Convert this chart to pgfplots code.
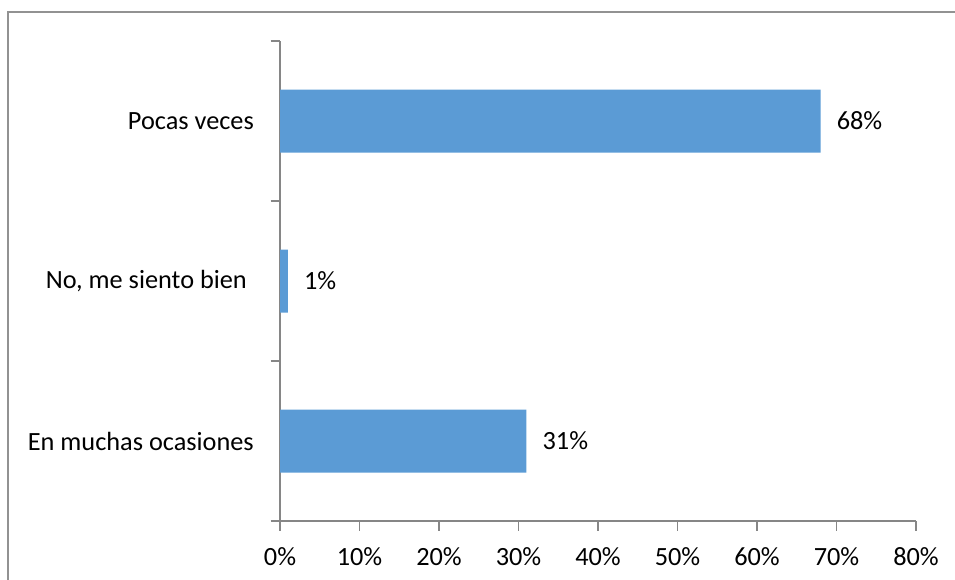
\documentclass[border=0pt]{standalone}
\usepackage{pgfplots}
\pgfplotsset{compat=1.18}
\usepackage{fontspec}
\setmainfont{Carlito}
\definecolor{barblue}{HTML}{5B9BD5}
\definecolor{axisgray}{HTML}{868686}
\begin{document}
\fontsize{26.3}{30}\selectfont
\begin{tikzpicture}
\useasboundingbox (0pt,0pt) rectangle (955pt,-579pt);
\draw[axisgray!90, line width=1.3pt] (8pt,-590pt) -- (8pt,-12pt) -- (970pt,-12pt);
\begin{axis}[
    at={(280pt,-521pt)}, anchor=south west,
    scale only axis, width=636pt, height=480pt,
    xbar, bar width=63pt,
    xmin=0, xmax=80, ymin=-0.5, ymax=2.5,
    axis lines*=left,
    axis line style={axisgray, line width=1.3pt},
    every tick/.style={axisgray, line width=1.3pt},
    tick align=outside,
    major tick length=9.5pt,
    xtick={0,10,...,80},
    xticklabels={0\%,10\%,20\%,30\%,40\%,50\%,60\%,70\%,80\%},
    ytick={-0.5,0.5,1.5,2.5},
    yticklabels={},
    extra y ticks={0,1,2},
    extra y tick labels={En muchas ocasiones,{No, me siento bien\rule{7pt}{0pt}},Pocas veces},
    extra y tick style={major tick length=0pt, yticklabel style={inner sep=0pt, xshift=-26pt}},
    xticklabel style={inner sep=0pt, yshift=-17pt},
    nodes near coords={\pgfmathprintnumber[assume math mode=true]{\pgfplotspointmeta}\%},
    every node near coord/.append style={inner sep=0pt, xshift=16pt, anchor=west, text=black},
    /pgf/number format/assume math mode=true,
]
\addplot[fill=barblue, draw=none] coordinates {(31,0) (1,1) (68,2)};
\end{axis}
\end{tikzpicture}
\end{document}
